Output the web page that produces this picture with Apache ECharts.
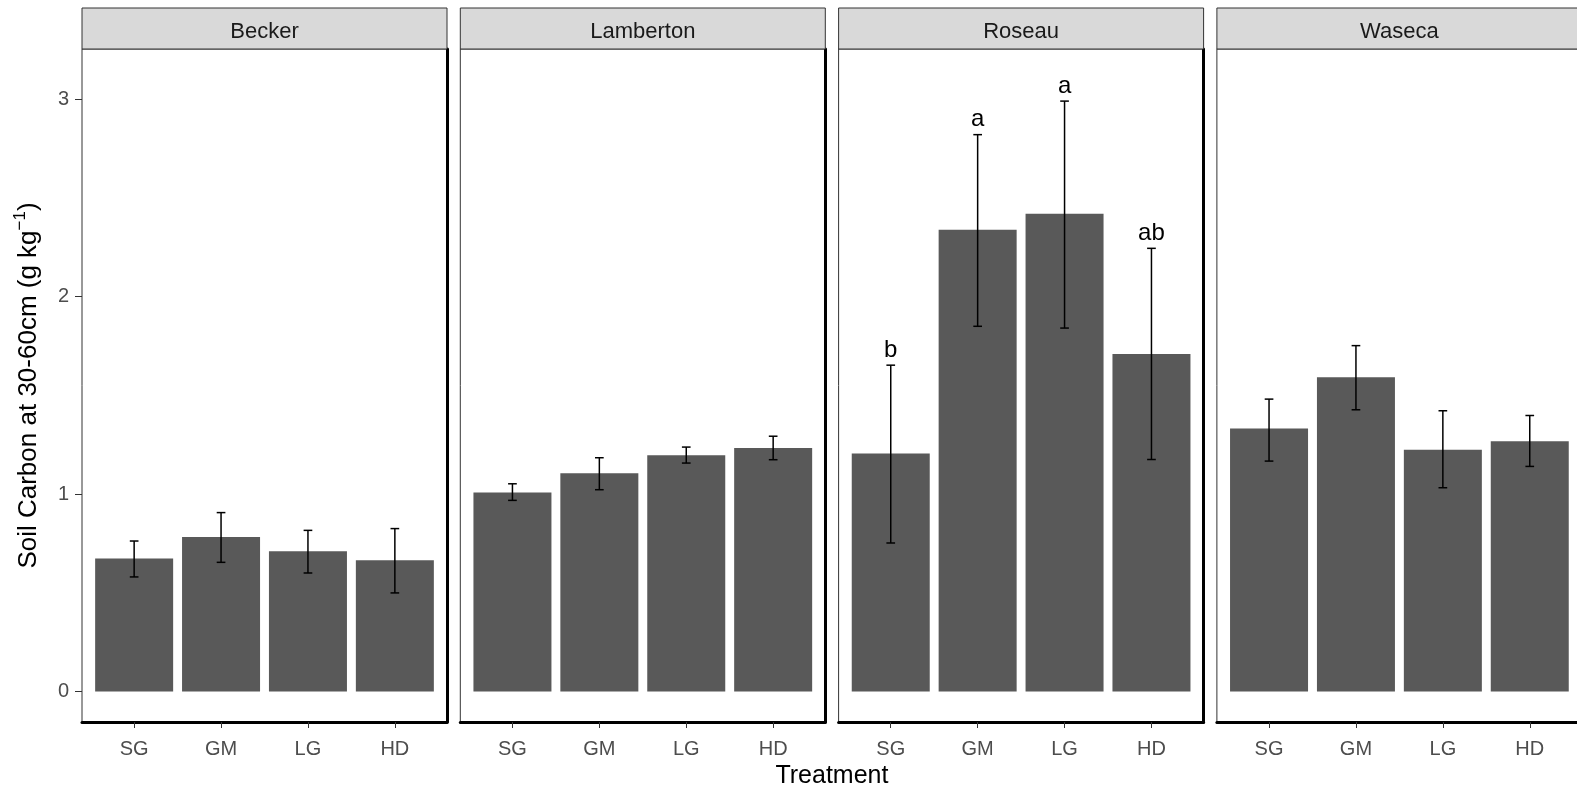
<!DOCTYPE html>
<html>
<head>
<meta charset="utf-8">
<script src="https://cdn.jsdelivr.net/npm/echarts@6/dist/echarts.min.js"></script>
<style>
html,body{margin:0;padding:0;background:#fff;}
#chart{width:1577px;height:788px;}
</style>
</head>
<body>
<div id="chart"></div>
<script>
// ---- data ----
const facets = ['Becker', 'Lamberton', 'Roseau', 'Waseca'];
const treatments = ['SG', 'GM', 'LG', 'HD'];
const yTicks = [0, 1, 2, 3];

const meanBecker = [0.674, 0.783, 0.710, 0.664];
const lowBecker = [0.580, 0.654, 0.600, 0.499];
const highBecker = [0.762, 0.906, 0.816, 0.825];

const meanLamberton = [1.008, 1.106, 1.196, 1.233];
const lowLamberton = [0.968, 1.022, 1.157, 1.174];
const highLamberton = [1.052, 1.184, 1.238, 1.293];

const meanRoseau = [1.206, 2.339, 2.420, 1.710];
const lowRoseau = [0.752, 1.850, 1.841, 1.175];
const highRoseau = [1.653, 2.821, 2.991, 2.245];

const meanWaseca = [1.332, 1.592, 1.224, 1.268];
const lowWaseca = [1.167, 1.427, 1.032, 1.140];
const highWaseca = [1.481, 1.752, 1.422, 1.398];

const lettersBecker = ['', '', '', ''];
const lettersLamberton = ['', '', '', ''];
const lettersRoseau = ['b', 'a', 'a', 'ab'];
const lettersWaseca = ['', '', '', ''];

const yTitle = 'Soil Carbon at 30-60cm (g kg';
const yTitleSup = '\u22121';
const xTitle = 'Treatment';

// ---- layout / style ----
const FONT = '"Liberation Sans", Arial, sans-serif';
const PANEL_LEFT0 = 82, PANEL_STEP = 378.3, PANEL_W = 365;
const PANEL_TOP = 49, PANEL_H = 673, STRIP_TOP = 8, STRIP_H = 41;
const Y_MIN = -0.155, Y_MAX = 3.255;
const X_MIN = 0.4, X_MAX = 4.6;
const BAR_W = 78, ERR_W = 0.1;

const means = [meanBecker, meanLamberton, meanRoseau, meanWaseca];
const lows = [lowBecker, lowLamberton, lowRoseau, lowWaseca];
const highs = [highBecker, highLamberton, highRoseau, highWaseca];
const letters = [lettersBecker, lettersLamberton, lettersRoseau, lettersWaseca];

const grids = [], xAxes = [], yAxes = [], series = [], graphics = [];

function errRenderer(lets) {
  return function (params, api) {
    const x = api.value(0), lo = api.value(1), hi = api.value(2);
    const pLo = api.coord([x, lo]);
    const pHi = api.coord([x, hi]);
    const hw = api.size([ERR_W, 0])[0] / 2;
    const st = { stroke: '#000', lineWidth: 1.5 };
    const children = [
      { type: 'line', shape: { x1: pLo[0], y1: pLo[1], x2: pHi[0], y2: pHi[1] }, style: st },
      { type: 'line', shape: { x1: pLo[0] - hw, y1: pLo[1], x2: pLo[0] + hw, y2: pLo[1] }, style: st },
      { type: 'line', shape: { x1: pHi[0] - hw, y1: pHi[1], x2: pHi[0] + hw, y2: pHi[1] }, style: st }
    ];
    const t = lets[params.dataIndex];
    if (t) {
      children.push({
        type: 'text',
        style: {
          text: t, x: pHi[0], y: pHi[1] - 15,
          textAlign: 'center', textVerticalAlign: 'middle',
          font: '24px ' + FONT, fill: '#000'
        }
      });
    }
    return { type: 'group', children: children };
  };
}

facets.forEach(function (f, i) {
  const left = PANEL_LEFT0 + i * PANEL_STEP;
  grids.push({
    left: left, top: PANEL_TOP, width: PANEL_W, height: PANEL_H,
    show: true, borderColor: '#333', borderWidth: 1, backgroundColor: '#fff',
    containLabel: false, outerBoundsMode: 'none'
  });
  xAxes.push({
    type: 'value', gridIndex: i, min: X_MIN, max: X_MAX,
    splitLine: { show: false },
    axisLine: { show: true, onZero: false, lineStyle: { color: '#000', width: 3 } },
    axisTick: { show: true, length: 6, customValues: [1, 2, 3, 4], lineStyle: { color: '#333', width: 1 } },
    axisLabel: {
      show: true, customValues: [1, 2, 3, 4], margin: 17,
      formatter: function (v) { return treatments[Math.round(v) - 1] || ''; },
      color: '#4d4d4d', fontSize: 20, fontFamily: FONT
    }
  });
  const yLeft = {
    type: 'value', gridIndex: i, min: Y_MIN, max: Y_MAX, position: 'left',
    splitLine: { show: false },
    axisLine: { show: false },
    axisTick: { show: i === 0, length: 7, customValues: yTicks, lineStyle: { color: '#333', width: 1 } },
    axisLabel: { show: i === 0, customValues: yTicks, margin: 13, color: '#4d4d4d', fontSize: 20, fontFamily: FONT }
  };
  if (i === 0) {
    yLeft.name = '{t|' + yTitle + '}{s|' + yTitleSup + '}{t|)}';
    yLeft.nameLocation = 'middle';
    yLeft.nameGap = 40;
    yLeft.nameRotate = 90;
    yLeft.nameTextStyle = {
      color: '#000', fontFamily: FONT,
      rich: {
        t: { fontSize: 26, fontFamily: FONT, color: '#000', lineHeight: 30, verticalAlign: 'bottom' },
        s: { fontSize: 17, fontFamily: FONT, color: '#000', lineHeight: 30, verticalAlign: 'top' }
      }
    };
  }
  yAxes.push(yLeft);
  yAxes.push({
    type: 'value', gridIndex: i, min: Y_MIN, max: Y_MAX, position: 'right',
    splitLine: { show: false },
    axisLine: { show: true, onZero: false, lineStyle: { color: '#000', width: 3 } },
    axisTick: { show: false }, axisLabel: { show: false }
  });

  series.push({
    type: 'bar', xAxisIndex: i, yAxisIndex: i * 2,
    barWidth: BAR_W,
    itemStyle: { color: '#595959' },
    silent: true,
    data: means[i].map(function (v, k) { return [k + 1, v]; })
  });
  series.push({
    type: 'custom', xAxisIndex: i, yAxisIndex: i * 2,
    renderItem: errRenderer(letters[i]),
    silent: true, z: 5,
    data: lows[i].map(function (lo, k) { return [k + 1, lo, highs[i][k]]; })
  });

  graphics.push({
    type: 'rect', z: 10,
    shape: { x: left, y: STRIP_TOP, width: PANEL_W, height: STRIP_H },
    style: { fill: '#d9d9d9', stroke: '#333', lineWidth: 1 }
  });
  graphics.push({
    type: 'text', z: 11,
    style: {
      text: f, x: left + PANEL_W / 2, y: STRIP_TOP + STRIP_H / 2 + 3,
      textAlign: 'center', textVerticalAlign: 'middle',
      font: '22px ' + FONT, fill: '#1a1a1a'
    }
  });
});

graphics.push({
  type: 'text', z: 11,
  style: {
    text: xTitle, x: PANEL_LEFT0 + (3 * PANEL_STEP + PANEL_W) / 2, y: 776,
    textAlign: 'center', textVerticalAlign: 'middle',
    font: '25px ' + FONT, fill: '#000'
  }
});

const chart = echarts.init(document.getElementById('chart'), null, { renderer: 'canvas' });
chart.setOption({
  backgroundColor: '#fff',
  animation: false,
  grid: grids,
  xAxis: xAxes,
  yAxis: yAxes,
  series: series,
  graphic: graphics
});
</script>
</body>
</html>
